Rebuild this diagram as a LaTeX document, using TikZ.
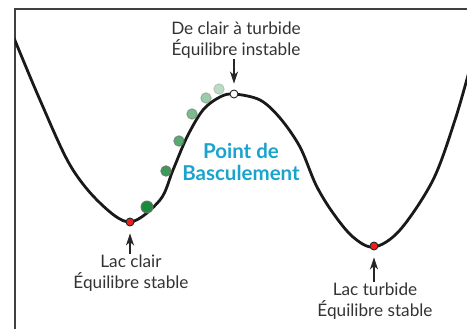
\documentclass[tikz,border=0pt]{standalone}
\usepackage{fontspec}
\setmainfont{Lato}
\usetikzlibrary{arrows.meta}
\definecolor{txt}{HTML}{333333}
\definecolor{tip}{HTML}{1AA3CC}
\definecolor{dgreen}{HTML}{1A8A3C}
\definecolor{eqred}{HTML}{E82020}
\begin{document}
\begin{tikzpicture}[x=1pt,y=-1pt,
  lbl/.style={font=\fontsize{17.2}{20.5}\selectfont, text=txt, align=center, inner sep=0pt},
  arr/.style={-{Stealth[length=12pt,width=8pt,inset=3.5pt]}, line width=1.2pt, draw=black!85},
  ball/.style={circle, inner sep=0pt, minimum size=10.5pt, draw=black!55, line width=0.9pt, fill=dgreen},
  eqdot/.style={circle, inner sep=0pt, minimum size=8pt, draw=black!85, line width=0.9pt}]
\useasboundingbox (0,0) rectangle (467,329);
\draw[line width=1.5pt, draw=black!75] (467,9) -- (15,9) -- (15,329);
\begin{scope}
\clip (15,9) rectangle (467,329);
\draw[line width=2.8pt, line join=round, draw=black!90] plot[smooth, tension=0.55] coordinates {
 (14,38) (40,100) (70,165) (100,203) (130,222) (160,200) (173,170) (187,137) (203,110) (220,97) (234,94)
 (260,100) (280,118) (300,147) (316,185) (333,213) (353,237) (374,247) (400,230) (433,180) (455,120) (470,68)};
\end{scope}
\node[eqdot, fill=eqred] (lc) at (130,222) {};
\node[eqdot, fill=eqred] (lt) at (374,246) {};
\node[eqdot, fill=white] (pk) at (234,94) {};
\node[ball, minimum size=12pt] (b1) at (147,207) {};
\node[ball, fill opacity=0.85, draw opacity=0.85] (b2) at (166,171) {};
\node[ball, fill opacity=0.72, draw opacity=0.72] (b3) at (179,141) {};
\node[ball, fill opacity=0.58, draw opacity=0.58] (b4) at (192,114) {};
\node[ball, fill opacity=0.44, draw opacity=0.44] (b5) at (206,98) {};
\node[ball, fill opacity=0.3, draw opacity=0.3] (b6) at (219,89) {};
\node[lbl] (tl) at (236,40) {De clair à turbide\\Équilibre instable};
\node[lbl] (ll) at (131,273) {Lac clair\\Équilibre stable};
\node[lbl] (rl) at (375,301) {Lac turbide\\Équilibre stable};
\node[font=\fontsize{20.5}{22}\selectfont\bfseries, text=tip, align=center, inner sep=0pt] (pt) at (241,162) {Point de\\Basculement};
\draw[arr, shorten <=1pt, shorten >=6pt] (tl.south -| pk) -- (pk.north);
\draw[arr, shorten <=1pt, shorten >=7pt] (ll.north -| lc) -- (lc.south);
\draw[arr, shorten <=1pt, shorten >=7pt] (rl.north -| lt) -- (lt.south);
\end{tikzpicture}
\end{document}
